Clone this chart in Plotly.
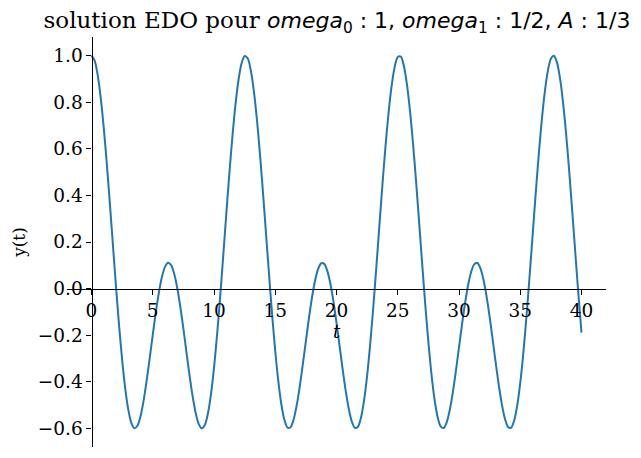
"""
Solution EDO - forced oscillator response, matplotlib-like centred spines
"""

import plotly.graph_objects as go

# t values (step 0.25) and y(t)
t = [0.0, 0.25, 0.5, 0.75, 1.0, 1.25, 1.5, 1.75, 2.0, 2.25, 2.5, 2.75, 3.0, 3.25, 3.5, 3.75,
     4.0, 4.25, 4.5, 4.75, 5.0, 5.25, 5.5, 5.75, 6.0, 6.25, 6.5, 6.75, 7.0, 7.25, 7.5, 7.75,
     8.0, 8.25, 8.5, 8.75, 9.0, 9.25, 9.5, 9.75, 10.0, 10.25, 10.5, 10.75, 11.0, 11.25, 11.5, 11.75,
     12.0, 12.25, 12.5, 12.75, 13.0, 13.25, 13.5, 13.75, 14.0, 14.25, 14.5, 14.75, 15.0, 15.25, 15.5, 15.75,
     16.0, 16.25, 16.5, 16.75, 17.0, 17.25, 17.5, 17.75, 18.0, 18.25, 18.5, 18.75, 19.0, 19.25, 19.5, 19.75,
     20.0, 20.25, 20.5, 20.75, 21.0, 21.25, 21.5, 21.75, 22.0, 22.25, 22.5, 22.75, 23.0, 23.25, 23.5, 23.75,
     24.0, 24.25, 24.5, 24.75, 25.0, 25.25, 25.5, 25.75, 26.0, 26.25, 26.5, 26.75, 27.0, 27.25, 27.5, 27.75,
     28.0, 28.25, 28.5, 28.75, 29.0, 29.25, 29.5, 29.75, 30.0, 30.25, 30.5, 30.75, 31.0, 31.25, 31.5, 31.75,
     32.0, 32.25, 32.5, 32.75, 33.0, 33.25, 33.5, 33.75, 34.0, 34.25, 34.5, 34.75, 35.0, 35.25, 35.5, 35.75,
     36.0, 36.25, 36.5, 36.75, 37.0, 37.25, 37.5, 37.75, 38.0, 38.25, 38.5, 38.75, 39.0, 39.25, 39.5, 39.75,
     40.0]
y = [1.0000, 0.9793, 0.9182, 0.8201, 0.6902, 0.5356, 0.3645, 0.1859,
     0.0089, -0.1573, -0.3049, -0.4270, -0.5186, -0.5764, -0.5995, -0.5890,
     -0.5481, -0.4817, -0.3963, -0.2992, -0.1985, -0.1020, -0.0171, 0.0497,
     0.0934, 0.1109, 0.1007, 0.0637, 0.0026, -0.0780, -0.1721, -0.2725,
     -0.3713, -0.4606, -0.5327, -0.5809, -0.5999, -0.5859, -0.5373, -0.4545,
     -0.3401, -0.1987, -0.0366, 0.1384, 0.3174, 0.4914, 0.6513, 0.7884,
     0.8955, 0.9669, 0.9985, 0.9888, 0.9382, 0.8494, 0.7274, 0.5786,
     0.4110, 0.2335, 0.0552, -0.1147, -0.2680, -0.3974, -0.4975, -0.5644,
     -0.5967, -0.5949, -0.5617, -0.5015, -0.4204, -0.3257, -0.2251, -0.1267,
     -0.0381, 0.0340, 0.0843, 0.1089, 0.1061, 0.0760, 0.0210, -0.0550,
     -0.1462, -0.2457, -0.3457, -0.4383, -0.5157, -0.5708, -0.5979, -0.5929,
     -0.5536, -0.4797, -0.3733, -0.2385, -0.0812, 0.0911, 0.2700, 0.4463,
     0.6107, 0.7547, 0.8704, 0.9517, 0.9941, 0.9954, 0.9555, 0.8765,
     0.7627, 0.6203, 0.4569, 0.2811, 0.1021, -0.0709, -0.2294, -0.3657,
     -0.4740, -0.5500, -0.5915, -0.5986, -0.5733, -0.5198, -0.4436, -0.3517,
     -0.2519, -0.1522, -0.0603, 0.0168, 0.0733, 0.1050, 0.1096, 0.0866,
     0.0378, -0.0331, -0.1209, -0.2189, -0.3196, -0.4149, -0.4970, -0.5587,
     -0.5937, -0.5976, -0.5674, -0.5026, -0.4045, -0.2768, -0.1248, 0.0444,
     0.2224, 0.4002, 0.5687, 0.7189, 0.8428, 0.9337, 0.9868, 0.9991,
     0.9700, 0.9011, 0.7960, 0.6605, 0.5018, 0.3284, 0.1494, -0.0261,
     -0.1892]

x_ticks = [0, 5, 10, 15, 20, 25, 30, 35, 40]
y_ticks = [-0.6, -0.4, -0.2, 0.0, 0.2, 0.4, 0.6, 0.8, 1.0]
y_tick_labels = ['\u22120.6', '\u22120.4', '\u22120.2', '0.0', '0.2', '0.4', '0.6', '0.8', '1.0']

x_range = [-2, 42]
y_range = [-0.68, 1.08]

serif = 'DejaVu Serif'
math = ("<span style=\"font-family:'DejaVu Sans';font-size:22px\"><i>omega</i><sub>0</sub> : 1, "
        "<i>omega</i><sub>1</sub> : 1/2, <i>A</i> : 1/3</span>")
title = 'solution EDO pour ' + math

fig = go.Figure()
fig.add_trace(go.Scatter(
    x=t, y=y, mode='lines', line=dict(color='#1f77b4', width=2, shape='spline', smoothing=0.8),
    showlegend=False, hoverinfo='skip'
))

# spines crossing at the origin, like ax.spines[...].set_position('zero')
x_pos = (0 - y_range[0]) / (y_range[1] - y_range[0])
y_pos = (0 - x_range[0]) / (x_range[1] - x_range[0])

axis_style = dict(showgrid=False, zeroline=False, showline=True, linecolor='black', linewidth=1.1,
                  ticks='outside', ticklen=5, tickwidth=1.1, tickcolor='black',
                  tickfont=dict(family=serif, size=18.5, color='black'))

fig.update_xaxes(range=x_range, tickvals=x_ticks, anchor='free', position=x_pos,
                 title=dict(text='<i>t</i>', font=dict(family=serif, size=18, color='black'), standoff=0),
                 **axis_style)
fig.update_yaxes(range=y_range, tickvals=y_ticks, ticktext=y_tick_labels, anchor='free', position=y_pos,
                 title=dict(text='y(t)', font=dict(family=serif, size=17, color='black'), standoff=6),
                 **axis_style)

# the page body adds an 8px offset, so margins are shifted to compensate
fig.update_layout(
    title=dict(text=title, font=dict(family=serif, size=23, color='black'),
               x=329 / 641, xanchor='center', yref='container', y=1 - 12 / 458, yanchor='middle'),
    width=641, height=458, margin=dict(l=59, r=43, t=29, b=19),
    plot_bgcolor='white', paper_bgcolor='white'
)

fig.write_html("out.html")
